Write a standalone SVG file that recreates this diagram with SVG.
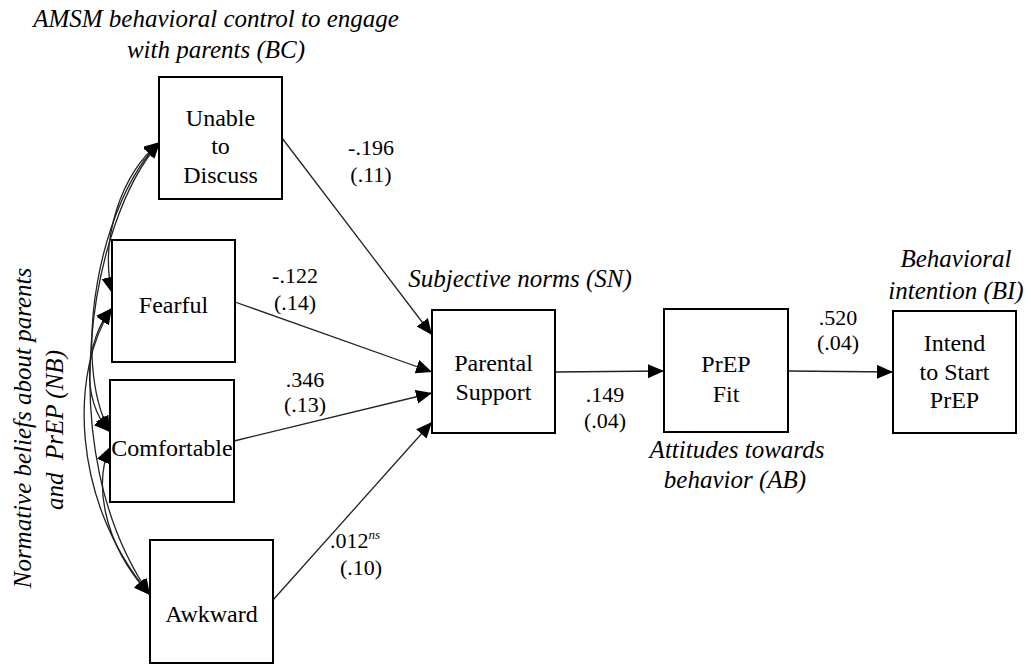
<svg xmlns="http://www.w3.org/2000/svg" width="1031" height="666" viewBox="0 0 1031 666">
<style>
.box{fill:#fff;stroke:#000;stroke-width:2}
.t{font-family:"Liberation Serif","Times New Roman",serif;font-size:24px;fill:#000;text-anchor:middle}
.n{font-family:"Liberation Serif","Times New Roman",serif;font-size:22px;fill:#000;text-anchor:middle}
.i{font-family:"Liberation Serif","Times New Roman",serif;font-size:25px;font-style:italic;fill:#000;text-anchor:middle}
.c{fill:none;stroke:#222;stroke-width:1.3}
</style>
<defs>
<marker id="ah" markerUnits="userSpaceOnUse" markerWidth="17" markerHeight="15" refX="16" refY="7" orient="auto-start-reverse">
<path d="M0,0 L16,7 L0,14 z" fill="#000"/>
</marker>
</defs>
<g id="labels">
<text class="i" x="216" y="27">AMSM behavioral control to engage</text>
<text class="i" x="216" y="58">with parents (BC)</text>
<text class="i" x="520" y="287">Subjective norms (SN)</text>
<text class="i" x="956" y="267">Behavioral</text>
<text class="i" x="956" y="299">intention (BI)</text>
<text class="i" x="737" y="458">Attitudes towards</text>
<text class="i" x="735" y="488">behavior (AB)</text>
<text class="i" transform="translate(31,428) rotate(-90)" x="0" y="0">Normative beliefs about parents</text>
<text class="i" transform="translate(63,430) rotate(-90)" x="0" y="0" xml:space="preserve">and  PrEP (NB)</text>
</g>
<g id="connectors">
<path class="c" d="M160,142 C120,175 100,240 112,293" marker-start="url(#ah)" marker-end="url(#ah)"/>
<path class="c" d="M160,142 C100,200 70,360 110,432" marker-start="url(#ah)" marker-end="url(#ah)"/>
<path class="c" d="M160,142 C90,220 50,450 150,595" marker-start="url(#ah)" marker-end="url(#ah)"/>
<path class="c" d="M112,308 C85,340 80,400 110,432" marker-start="url(#ah)" marker-end="url(#ah)"/>
<path class="c" d="M112,308 C70,370 70,500 150,595" marker-start="url(#ah)" marker-end="url(#ah)"/>
<path class="c" d="M110,447 C95,480 100,540 150,595" marker-start="url(#ah)" marker-end="url(#ah)"/>
<line class="c" x1="282" y1="138" x2="432" y2="335" marker-end="url(#ah)"/>
<line class="c" x1="235" y1="302" x2="432" y2="372" marker-end="url(#ah)"/>
<line class="c" x1="234" y1="441" x2="432" y2="393" marker-end="url(#ah)"/>
<line class="c" x1="273" y1="600" x2="432" y2="422" marker-end="url(#ah)"/>
<line class="c" x1="555" y1="372" x2="664" y2="371" marker-end="url(#ah)"/>
<line class="c" x1="788" y1="371" x2="893" y2="372" marker-end="url(#ah)"/>
<text class="n" x="371" y="155">-.196</text>
<text class="n" x="371" y="182">(.11)</text>
<text class="n" x="295" y="283">-.122</text>
<text class="n" x="295" y="310">(.14)</text>
<text class="n" x="305" y="387">.346</text>
<text class="n" x="305" y="412">(.13)</text>
<text class="n" x="605" y="402">.149</text>
<text class="n" x="605" y="428">(.04)</text>
<text class="n" x="838" y="325">.520</text>
<text class="n" x="838" y="350">(.04)</text>
<text class="n" x="355" y="548">.012<tspan font-size="13" font-style="italic" dy="-9">ns</tspan></text>
<text class="n" x="361" y="575">(.10)</text>
</g>
<g id="unable">
<rect class="box" x="159" y="77" width="123" height="122"/>
<text class="t" x="220.5" y="126">Unable</text>
<text class="t" x="220.5" y="154">to</text>
<text class="t" x="220.5" y="183">Discuss</text>
</g>
<g id="fearful">
<rect class="box" x="112" y="240" width="123" height="122"/>
<text class="t" x="173.5" y="313">Fearful</text>
</g>
<g id="comfortable">
<rect class="box" x="110" y="380" width="124" height="122"/>
<text class="t" x="172" y="456">Comfortable</text>
</g>
<g id="awkward">
<rect class="box" x="150" y="540" width="123" height="123"/>
<text class="t" x="211.5" y="622">Awkward</text>
</g>
<g id="parental">
<rect class="box" x="432" y="310" width="123" height="123"/>
<text class="t" x="493.5" y="371">Parental</text>
<text class="t" x="493.5" y="400">Support</text>
</g>
<g id="prepfit">
<rect class="box" x="664" y="309" width="124" height="123"/>
<text class="t" x="726" y="372">PrEP</text>
<text class="t" x="726" y="402">Fit</text>
</g>
<g id="intend">
<rect class="box" x="893" y="311" width="123" height="122"/>
<text class="t" x="954.5" y="351">Intend</text>
<text class="t" x="954.5" y="380">to Start</text>
<text class="t" x="954.5" y="408">PrEP</text>
</g>
</svg>
